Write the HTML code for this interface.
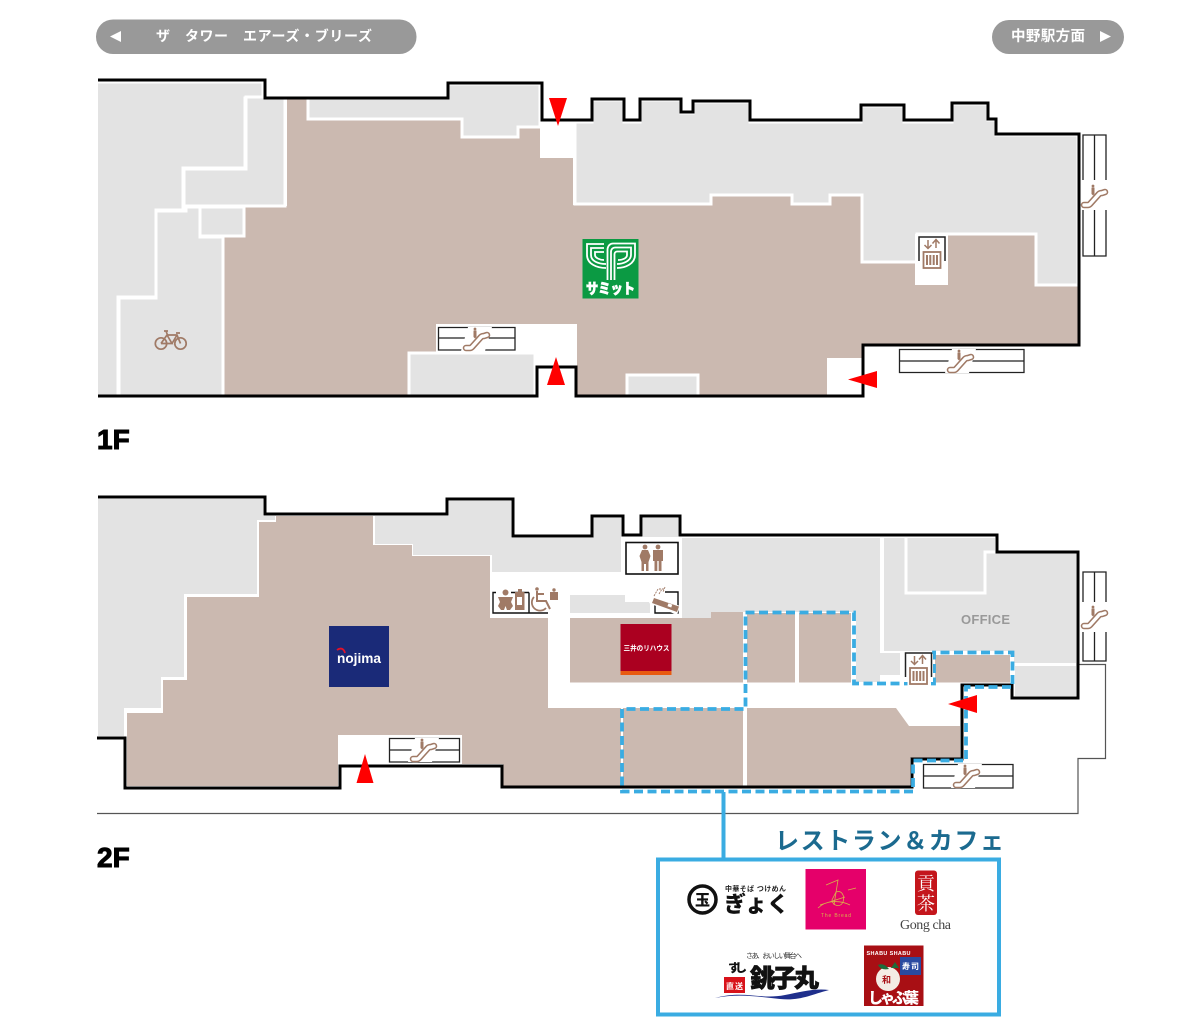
<!DOCTYPE html>
<html lang="ja"><head><meta charset="utf-8"><title>Floor map</title>
<style>html,body{margin:0;padding:0;background:#fff}svg{display:block}
text{font-family:"Liberation Sans","Noto Sans CJK JP",sans-serif}</style></head>
<body>
<svg xmlns="http://www.w3.org/2000/svg" width="1200" height="1027" viewBox="0 0 1200 1027">
<defs>
<clipPath id="leftclip"><rect x="98" y="0" width="1102" height="1027"/></clipPath>
<g id="escicon">
<path d="M-10,9 L-6,9 Q-5,9 -4,8 L5,-2 Q6,-3 8,-3 L11,-4" fill="none" stroke="#a07a66" stroke-width="6.500" stroke-linecap="round"/>
<path d="M-10,9 L-6,9 Q-5,9 -4,8 L5,-2 Q6,-3 8,-3 L11,-4" fill="none" stroke="#fff" stroke-width="3.400" stroke-linecap="round"/>
<circle cx="-1" cy="-10" r="1.400" fill="#a07a66"/><path d="M-2.500,-8.500H.5V-2L-1,-.5L-2.500,-2Z" fill="#a07a66"/>
</g>
<g id="esc">
<path d="M-8,-12H16L9,12H-15Z" fill="#fff"/>
<use href="#escicon"/>
</g>
<g id="elev">
<path d="M-13,12V-12H13V12" fill="none" stroke="#222" stroke-width="1.500"/>
<rect x="-11" y="1" width="22" height="20" fill="#fff"/>
<rect x="-8.500" y="3" width="17" height="16" fill="#fff" stroke="#a07a66" stroke-width="1.800"/>
<path d="M-5,6V16M-1.700,6V16M1.700,6V16M5,6V16" stroke="#a07a66" stroke-width="2"/>
<path d="M-4,-9V-1M-7.500,-4L-4,-.5L-.5,-4M4,-1V-9M.5,-5.500L4,-9.500L7.500,-5.500" fill="none" stroke="#a07a66" stroke-width="1.500"/>
</g>
</defs>

<!-- pills -->
<rect x="96" y="19.500" width="320.500" height="34.500" rx="17" fill="#999"/>
<path d="M110,36.500 L121,31 V42Z" fill="#fff"/>
<g font-size="14" font-weight="700" fill="#fff">
<text x="156" y="41" textLength="15">ザ</text>
<text x="185" y="41" textLength="43">タワー</text>
<text x="243" y="41" textLength="129">エアーズ・ブリーズ</text>
</g>
<rect x="992" y="20" width="132" height="34" rx="17" fill="#999"/>
<text x="1011" y="41" font-size="14.500" font-weight="700" fill="#fff" textLength="74">中野駅方面</text>
<path d="M1111,36.500 L1100,31 V42Z" fill="#fff"/>

<!-- 1F fills -->
<g stroke="#fff" stroke-width="3" stroke-linejoin="miter" clip-path="url(#leftclip)">
<path fill="#cbb9b0" stroke="none" d="M287,98H308V119H462V138H518V128H540V158H573V205H711V196H792V205H830V196H861V263H915V285H948V235H1035V286H1078V345H863V358H827V395H698V374H627V395H577V324H436V352H408V395H224V236H244V206H287Z"/>
<path fill="#e3e3e3" d="M90,82H263V98H245V168H183V210H156V297H118V396H90Z"/>
<path fill="#e3e3e3" d="M246,97H285V206H184V169H246Z"/>
<path fill="#e3e3e3" d="M156,211H186V207H200V237H223V396H119V298H156Z"/>
<path fill="#e3e3e3" d="M200,207H244V236H200Z"/>
<path fill="#e3e3e3" d="M308,97H448V84H540V127H518V137H462V119H308Z"/>
<path fill="#e3e3e3" d="M575,122H592V100H624V122H640V100H681V113H693V102H750V122H861V106H904V122H952V104H988V120H996V135H1078V285H1036V234H917V262H862V195H830V204H792V195H711V204H575Z"/>
<path fill="#e3e3e3" d="M409,353H535V396H409Z"/>
<path fill="#e3e3e3" d="M627,375H698V396H627Z"/>
</g>
<rect x="540" y="122" width="33" height="36" fill="#fff"/>
<path d="M915,234H948V285H915Z" fill="#fff"/>

<!-- 1F outline -->
<path d="M98,80H265V98H448V83H542V120H592V99H624V120H640V99H681V112H693V101H750V120H861V105H904V120H952V103H988V119H996V134H1079V345H863V396H576V367H537V396H98" fill="none" stroke="#000" stroke-width="3"/>

<!-- 1F escalators -->
<g fill="none" stroke="#222" stroke-width="1.300">
<path d="M438.500,327.500H515V350H438.500ZM438.500,338H515"/>
<path d="M899.500,349.500H1024V372.500H899.500ZM899.500,361H1024"/>
<path d="M1083,135H1106V256H1083ZM1094.500,135V256"/>
</g>
<use href="#esc" x="476" y="339"/><use href="#esc" x="960" y="361"/>
<rect x="1081" y="180" width="28" height="30" fill="#fff"/>
<use href="#escicon" x="1094" y="196"/>
<use href="#elev" x="932" y="249"/>

<!-- bike -->
<g fill="none" stroke="#a07a66" stroke-width="1.700">
<circle cx="161" cy="343.500" r="5.700"/><circle cx="180.500" cy="343.500" r="5.700"/>
<path d="M161,343.500L167,335H177L180.500,343.500M167,335L172,343.500H161M172,343.500L177,335M166,331L167.500,335M164,331H168M176,333H180"/>
</g>

<!-- Summit logo -->
<rect x="582.500" y="239" width="56" height="59.500" fill="#0b9a43"/>
<g fill="none" stroke="#fff" stroke-width="1.800">
<path d="M604,244H587V255C587,264 597,268 606,268"/>
<path d="M604,248H591V255C591,261 598,264 606,264"/>
<path d="M604,252H595V255C595,258 600,260 604,260"/>
<path d="M607.500,280V250C607.500,246 610,243.500 613,243.500H635V255C635,264 625,268 617,268"/>
<path d="M611,280V252C611,249 613,247.500 615,247.500H631V255C631,261 623,264 617,264"/>
<path d="M614.500,280V254C614.500,252.500 616,251.500 617,251.500H627V255C627,258 623,260 618,260"/>
</g>
<text x="586" y="294" font-size="14.500" font-weight="900" fill="#fff" stroke="#fff" stroke-width=".6" textLength="49" lengthAdjust="spacingAndGlyphs">サミット</text>

<!-- 1F label -->
<text x="97" y="449" font-size="28" font-weight="700" fill="#000" stroke="#000" stroke-width="1">1F</text>

<!-- 2F fills -->
<g stroke="#fff" stroke-width="3">
<path fill="#cbb9b0" stroke="none" d="M276,516H373V545H412V556H490V618H548V708H621V786H503V764H462V735H338V786H127V713H163V680H187V597H259V522H276Z"/>
<path fill="#e3e3e3" stroke="none" d="M98,499H263V516H275V520H257V594H184V677H161V708H124V736H98Z"/>
<path fill="#e3e3e3" stroke="none" d="M375,516H449V501H511V538H593V518H621V572H492V555H413V544H375Z"/>
<path fill="#e3e3e3" stroke="none" d="M643,518H678V537H643Z"/>
<path fill="#e3e3e3" stroke="none" d="M682,538H880V653H900V675H880V682H856V612H712V620H682Z"/>
<path fill="#e3e3e3" stroke="none" d="M884,538H995V553H1076V663H1014V651H884Z"/>
<path fill="none" d="M906,537V593H985V552H997"/>
<path fill="#e3e3e3" stroke="none" d="M1015,666H1076V696H1015Z"/>
</g>
<path fill="#e3e3e3" d="M570,595H625V602H650V613H570Z"/>
<path fill="#cbb9b0" d="M570,618H711V612H743V682.500H570Z"/>
<rect x="747" y="613" width="48" height="69.500" fill="#cbb9b0"/>
<rect x="799" y="613" width="52" height="69.500" fill="#cbb9b0"/>
<rect x="623" y="708" width="120" height="78" fill="#cbb9b0"/>
<path fill="#cbb9b0" d="M747,708H896L909,726H960V758H910V786H747Z"/>
<rect x="935" y="655" width="75" height="27.500" fill="#cbb9b0"/>

<!-- thin outline -->
<path d="M97,813.500H1078V758.500H1105.500V664.500H1079" fill="none" stroke="#555" stroke-width="1.200"/>

<!-- 2F outline -->
<path d="M98,497H265V514H447V499H513V536H592V516H623V535H641V516H680V535H997V552H1078V698H1012V685H962V759H912V787H502V766H340V788H125V738H97" fill="none" stroke="#000" stroke-width="3"/>

<!-- facilities -->
<rect x="626" y="542.500" width="52" height="31.500" fill="#fff" stroke="#111" stroke-width="1.600"/>
<g fill="#a07a66">
<circle cx="645" cy="547" r="2.400"/><path d="M642,550H648L650.500,556L648.500,562V571H646V564H644V571H641.500V562L639.500,556Z"/>
<circle cx="658" cy="547" r="2.400"/><path d="M653,550H663V561H661.500V571H658.700V561H657.300V571H654.500V561H653Z"/>
</g>
<path d="M655,600V613H678V592H665" fill="none" stroke="#111" stroke-width="1.400"/>
<path d="M652,595L680,606L677,615L649,603Z" fill="#fff"/>
<path d="M654,598L679,606.500L677,612L652,603Z" fill="#a07a66"/>
<rect x="668" y="604" width="4" height="3" fill="#fff" transform="rotate(18 670 605)"/>
<path d="M654,596L658,589H664M659,594L662,589M665,587L663,592" stroke="#a07a66" stroke-width=".9" fill="none" stroke-dasharray="2 1"/>
<path d="M548,613H493V592.500H496M529,592.500V613M511,592.500H529" fill="none" stroke="#111" stroke-width="1.400"/>
<g fill="#a07a66">
<circle cx="505.500" cy="592.500" r="3"/><path d="M498,597H513L511,602L513,606L510,610H507L505.500,606L504,610H501L498,606L500,602Z"/>
<rect x="515" y="592" width="9.500" height="18"/><rect x="518" y="589" width="4" height="3"/>
</g>
<rect x="517" y="597" width="5" height="8" fill="#fff"/>
<rect x="531" y="590" width="17" height="22" fill="#fff"/>
<path d="M537,591V601H546L550,609M537,594H544" fill="none" stroke="#a07a66" stroke-width="2"/>
<circle cx="537" cy="589" r="1.800" fill="#a07a66"/>
<path d="M534,597A8,8 0 1 0 546,608" fill="none" stroke="#a07a66" stroke-width="1.800"/>
<rect x="550" y="592" width="8" height="8" fill="#a07a66"/><circle cx="554" cy="590" r="1.700" fill="#a07a66"/>

<!-- 2F escalators -->
<g fill="none" stroke="#222" stroke-width="1.300">
<path d="M389.500,738.500H459.500V762H389.500ZM389.500,750H459.500"/>
<path d="M923.500,764.500H1013V788H923.500ZM923.500,776H1013"/>
<path d="M1083,572H1106V661H1083ZM1094.500,572V661"/>
</g>
<use href="#esc" x="423" y="750"/><use href="#esc" x="966" y="776"/>
<rect x="1081" y="602" width="28" height="30" fill="#fff"/>
<use href="#escicon" x="1094" y="617"/>

<!-- Nojima -->
<rect x="329" y="626" width="60" height="61" fill="#1a2a78"/>
<text x="337" y="663" font-size="14" font-weight="700" fill="#fff" textLength="44" lengthAdjust="spacingAndGlyphs">nojima</text>
<path d="M337,650C341,647 344,649 345,653" fill="none" stroke="#e1122a" stroke-width="1.800"/>

<!-- Rehouse -->
<rect x="620.500" y="624" width="51" height="47" fill="#ab0020"/>
<rect x="620.500" y="671" width="51" height="4" fill="#e85a10"/>
<text x="623.500" y="650.500" font-size="7" font-weight="700" fill="#fff" textLength="46" lengthAdjust="spacingAndGlyphs">三井のリハウス</text>

<text x="961" y="624" font-size="13" font-weight="700" fill="#999" letter-spacing="1" textLength="50">OFFICE</text>

<!-- dashed area -->
<path d="M745.500,612.500H854V683.500H934V652.500H1012.500V687H966V760.500H913V791.500H622V709H745.500Z" fill="none" stroke="#3aace2" stroke-width="3.800" stroke-dasharray="9 4.500"/>

<rect x="904" y="654" width="29" height="28" fill="#fff"/>
<use href="#elev" x="918.500" y="665"/>

<!-- triangles -->
<g fill="#f00">
<path d="M549,98H567L558,126Z"/>
<path d="M556,357L565,385H547Z"/>
<path d="M848,379.500L877,371V388Z"/>
<path d="M365,754L373.500,783H356.500Z"/>
<path d="M948,704L977,695V713Z"/>
</g>

<text x="97" y="867" font-size="28" font-weight="700" fill="#000" stroke="#000" stroke-width="1">2F</text>

<!-- restaurant box -->
<path d="M723.500,792V858" stroke="#3aace2" stroke-width="4"/>
<rect x="658" y="859.500" width="341" height="155" fill="#fff" stroke="#3aace2" stroke-width="4"/>
<text x="775" y="849" font-size="24" font-weight="700" fill="#1b6a8f" textLength="229">レストラン＆カフェ</text>

<!-- gyoku -->
<circle cx="702.500" cy="899.500" r="13.500" fill="#fff" stroke="#111" stroke-width="3.500"/>
<text x="702.500" y="905" font-size="15" font-weight="900" fill="#111" text-anchor="middle">玉</text>
<text x="725" y="891" font-size="7" font-weight="700" fill="#222" textLength="61">中華そば つけめん</text>
<text x="724" y="912" font-size="22" font-weight="900" fill="#111" textLength="65">ぎょく</text>

<!-- pink -->
<rect x="805.500" y="869" width="60.500" height="60.500" fill="#e5006a"/>
<g fill="none" stroke="#d9b04a" stroke-width=".8">
<path d="M826,885L838,880L834,905M820,905L845,897M848,890L856,888M818,908C826,900 840,900 850,905"/>
<path d="M836,892C842,890 845,896 843,902C840,908 833,906 832,900Z"/>
</g>
<text x="821" y="917" font-size="5" fill="#d9b04a" textLength="30">The Bread</text>

<!-- gongcha -->
<rect x="915" y="870.500" width="22" height="44.500" rx="3" fill="#c4161c"/>
<text x="926" y="890" font-size="18" fill="#fff" text-anchor="middle" style="font-family:'Noto Serif CJK SC',serif">貢</text>
<text x="926" y="910" font-size="18" fill="#fff" text-anchor="middle" style="font-family:'Noto Serif CJK SC',serif">茶</text>
<text x="900" y="929" font-size="14" fill="#444" textLength="51" style="font-family:'Liberation Serif',serif">Gong cha</text>

<!-- choshimaru -->
<text x="746" y="958" font-size="7" fill="#333" textLength="56">さあ、おいしい舞台へ</text>
<text x="728" y="972" font-size="12" font-weight="900" fill="#111" textLength="19">すし</text>
<text x="750" y="987" font-size="25" font-weight="900" fill="#111" stroke="#111" stroke-width=".6" textLength="69">銚子丸</text>
<rect x="724" y="977" width="21" height="16" fill="#d8121a"/>
<text x="726" y="989" font-size="8" font-weight="700" fill="#fff" textLength="17">直送</text>
<path d="M715,998C745,990 760,1000 785,995C800,992 815,988 829,990C810,995 800,1001 780,999C760,997 740,993 715,998Z" fill="#1f2f8c"/>

<!-- shabu -->
<rect x="864" y="945.500" width="59.500" height="60.500" fill="#a80f14"/>
<text x="866.500" y="955" font-size="5.500" font-weight="700" fill="#fff" textLength="44">SHABU SHABU</text>
<circle cx="888" cy="979" r="12" fill="#f4ece4"/>
<path d="M878,965C882,963 886,965 889,969C884,970 880,969 878,965ZM891,968L895,962L899,968Z" fill="#1d6b3a"/>
<rect x="900" y="957" width="21" height="18" fill="#2a4aa0"/>
<text x="902" y="969" font-size="8" font-weight="700" fill="#fff" textLength="17">寿司</text>
<text x="882" y="983" font-size="9" font-weight="700" fill="#a80f14" textLength="12">和</text>
<text x="868" y="1003" font-size="15" font-weight="900" fill="#fff" textLength="51">しゃぶ葉</text>
</svg>
</body></html>
